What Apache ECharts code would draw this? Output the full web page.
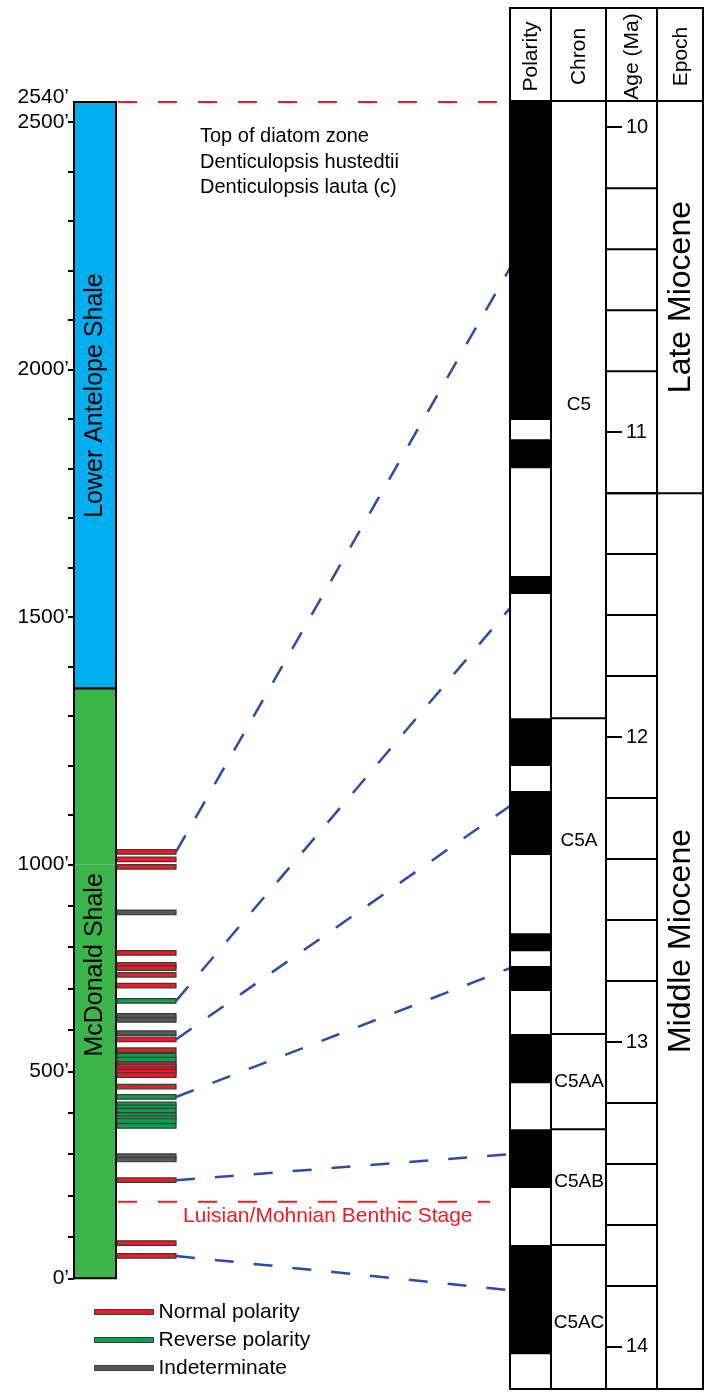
<!DOCTYPE html>
<html><head><meta charset="utf-8">
<script src="https://cdn.jsdelivr.net/npm/echarts@6/dist/echarts.min.js"></script>
<style>html,body{margin:0;padding:0;background:#fff}#c{width:707px;height:1393px}</style>
</head><body><div id="c"></div>
<script>
// ---------------- DATA ----------------
// depth axis (feet)
const depthTickLabels = [0, 500, 1000, 1500, 2000, 2500];
const sectionTopDepth = 2540;           // labelled top of the section
const formationNames = ['Lower Antelope Shale', 'McDonald Shale'];
const formationTops = [2540, 1355];
const formationBases = [1355, 0];
const formationLabelDepths = [1947, 757];
// paleomagnetic sample depths (ft)
const normalDepths = [1025, 1010, 994, 786, 757, 749, 733, 707, 577, 551, 519, 512, 505, 499, 491, 463, 237, 85, 54];
const reverseDepths = [670, 538, 528, 438, 420, 413, 405, 394, 387, 380, 368];
const indeterminateDepths = [884, 634, 624, 592, 295, 287];
const diatomTopDepth = 2540;
const diatomNotes = ['Top of diatom zone', 'Denticulopsis hustedtii', 'Denticulopsis lauta (c)'];
const stageBoundaryDepth = 185;
const stageBoundaryLabel = 'Luisian/Mohnian Benthic Stage';
// correlations: sample depth (ft) -> age (Ma)
const corrSampleDepths = [1025, 670, 577, 438, 237, 54];
const corrAges = [10.462, 11.577, 12.226, 12.758, 13.368, 13.814];
// timescale (Ma)
const ageTop = 9.914, ageBase = 14.138;
const normalChrons = [[9.914, 10.960], [11.023, 11.118], [11.472, 11.531], [11.938, 12.095], [12.177, 12.387],
  [12.643, 12.702], [12.751, 12.833], [12.974, 13.135], [13.286, 13.479], [13.666, 14.024]];
const chronNames = ['C5', 'C5A', 'C5AA', 'C5AB', 'C5AC'];
const chronBases = [11.938, 12.974, 13.286, 13.666, 14.138];
const chronLabelAges = [10.91, 12.34, 13.13, 13.46, 13.92];
const ageTicks = [10, 11, 12, 13, 14];
const ageCellLines = [10.2, 10.4, 10.6, 10.8, 11.2, 11.4, 11.6, 11.8, 12.2, 12.4, 12.6, 12.8, 13.2, 13.4, 13.6, 13.8];
const epochNames = ['Late Miocene', 'Middle Miocene'];
const epochBoundaries = [11.2];
const headerNames = ['Polarity', 'Chron', 'Age (Ma)', 'Epoch'];
const legendNames = ['Normal polarity', 'Reverse polarity', 'Indeterminate'];

// ---------------- STYLE / LAYOUT ----------------
const FONT = 'Liberation Sans';
const COL = { blue: '#00AEEF', green: '#3BB54A', normal: '#ED1C24', reverse: '#0E9F4F', indet: '#585858',
  edge: '#3a3a3a', corr: '#2B4BA6', stage: '#ED1C24' };
const formationColors = [COL.blue, COL.green];
const typeColors = [COL.normal, COL.reverse, COL.indet];
const L = { colL: 74, colR: 116, sampleR: 176, upperTop: 102, split: 864.3, lowerBottom: 1278.3,
  panelL: 510, panelR: 703, headerTop: 8, panelTop: 101, panelBottom: 1389, polR: 551, chronR: 606, ageR: 657 };

const chart = echarts.init(document.getElementById('c'), null, { renderer: 'canvas' });

function depthAxis(gi, min, max) {
  const shown = depthTickLabels.filter(v => v >= min && v <= max && !(gi === 0 && v === min));
  return {
    gridIndex: gi, type: 'value', min, max, interval: 100,
    axisLine: { show: true, onZero: false, lineStyle: { color: '#000', width: 2 } },
    axisTick: { show: true, length: 6, lineStyle: { color: '#000', width: 2 } },
    axisLabel: { color: '#000', fontSize: 21, fontFamily: FONT, margin: 5,
      showMinLabel: true, showMaxLabel: gi === 1,
      formatter: v => shown.includes(v) ? v + '\u2019' : '' },
    splitLine: { show: false }
  };
}
const extents = [[1000, 2540], [0, 1000]];

function formationSeries(gi) {
  const ext = extents[gi];
  return {
    type: 'custom', xAxisIndex: gi, yAxisIndex: gi, silent: true, z: 2, clip: false,
    data: formationNames.map((n, i) => [formationTops[i], formationBases[i], i, formationLabelDepths[i]]),
    renderItem(params, api) {
      const top = api.value(0), base = api.value(1), i = api.value(2), mid = api.value(3);
      const t = Math.min(top, ext[1]), b = Math.max(base, ext[0]);
      if (t <= b) return null;
      const y1 = api.coord([0, t])[1], y2 = api.coord([0, b])[1];
      const ch = [
        { type: 'rect', shape: { x: L.colL, y: y1, width: L.colR - L.colL, height: y2 - y1 }, style: { fill: formationColors[i] } },
        { type: 'line', shape: { x1: L.colL, y1: y1, x2: L.colL, y2: y2 }, style: { stroke: '#000', lineWidth: 2 } },
        { type: 'line', shape: { x1: L.colR, y1: y1, x2: L.colR, y2: y2 }, style: { stroke: '#000', lineWidth: 2 } }
      ];
      if (top <= ext[1] && top >= ext[0]) ch.push({ type: 'line', shape: { x1: L.colL - 1, y1: y1, x2: L.colR + 1, y2: y1 }, style: { stroke: '#000', lineWidth: 2 } });
      if (base >= ext[0] && base <= ext[1]) ch.push({ type: 'line', shape: { x1: L.colL - 1, y1: y2, x2: L.colR + 1, y2: y2 }, style: { stroke: '#000', lineWidth: 2 } });
      if (mid >= ext[0] && mid <= ext[1]) {
        ch.push({ type: 'text', x: (L.colL + L.colR) / 2, y: api.coord([0, mid])[1], rotation: Math.PI / 2,
          style: { text: formationNames[i], fill: '#000', font: '25px ' + FONT, align: 'center', verticalAlign: 'middle' } });
      }
      return { type: 'group', children: ch };
    }
  };
}

const sampleSets = [normalDepths, reverseDepths, indeterminateDepths];
function sampleSeries(k, gi) {
  const ext = extents[gi];
  return {
    type: 'custom', name: legendNames[k], xAxisIndex: gi, yAxisIndex: gi, z: 3, silent: true, clip: false,
    itemStyle: { color: typeColors[k], borderColor: COL.edge, borderWidth: 1 },
    data: sampleSets[k].filter(d => gi === 0 ? d > ext[0] : d <= ext[1]).map(d => [1, d]),
    renderItem(params, api) {
      const y = api.coord([0, api.value(1)])[1];
      return { type: 'rect', shape: { x: L.colR + 1, y: y - 2.25, width: L.sampleR - L.colR - 1, height: 4.5 },
        style: { fill: typeColors[k], stroke: COL.edge, lineWidth: 1.2 } };
    }
  };
}

const series = [formationSeries(0), formationSeries(1)];
for (let k = 0; k < 3; k++) { series.push(sampleSeries(k, 0)); series.push(sampleSeries(k, 1)); }

// section-top label, diatom top line + notes (upper grid)
series.push({
  type: 'custom', xAxisIndex: 0, yAxisIndex: 0, z: 4, silent: true, clip: false, data: [[0, diatomTopDepth, sectionTopDepth]],
  renderItem(params, api) {
    const y = api.coord([0, api.value(1)])[1];
    const yTop = api.coord([0, api.value(2)])[1];
    return { type: 'group', children: [
      { type: 'line', shape: { x1: L.colR + 2, y1: y, x2: 498, y2: y }, style: { stroke: COL.stage, lineWidth: 2, lineDash: [19, 21] } },
      { type: 'text', x: 200, y: y + 22, style: { text: diatomNotes.join('\n'), fill: '#000', font: '20px ' + FONT, lineHeight: 25.5, align: 'left', verticalAlign: 'top' } },
      { type: 'text', x: L.colL - 5, y: yTop - 5, style: { text: api.value(2) + '\u2019', fill: '#000', font: '21px ' + FONT, align: 'right', verticalAlign: 'middle' } }
    ] };
  }
});
// stage boundary (lower grid)
series.push({
  type: 'custom', xAxisIndex: 1, yAxisIndex: 1, z: 4, silent: true, clip: false, data: [[0, stageBoundaryDepth]],
  renderItem(params, api) {
    const y = api.coord([0, api.value(1)])[1];
    return { type: 'group', children: [
      { type: 'line', shape: { x1: L.colR + 2, y1: y, x2: 490, y2: y }, style: { stroke: COL.stage, lineWidth: 2, lineDash: [19, 21] } },
      { type: 'text', x: 183, y: y + 14, style: { text: stageBoundaryLabel, fill: COL.stage, font: '21px ' + FONT, align: 'left', verticalAlign: 'middle' } }
    ] };
  }
});

// ---- timescale panel (grid 2) ----
series.push({
  type: 'custom', xAxisIndex: 2, yAxisIndex: 2, z: 2, silent: true, data: normalChrons,
  renderItem(params, api) {
    const y1 = api.coord([0, api.value(0)])[1], y2 = api.coord([0, api.value(1)])[1];
    return { type: 'rect', shape: { x: L.panelL, y: y1, width: L.polR - L.panelL, height: y2 - y1 }, style: { fill: '#000' } };
  }
});
series.push({
  type: 'custom', xAxisIndex: 2, yAxisIndex: 2, z: 4, silent: true, clip: false,
  data: chronNames.map((n, i) => [chronBases[i], chronLabelAges[i], i]),
  renderItem(params, api) {
    const yb = api.coord([0, api.value(0)])[1], yl = api.coord([0, api.value(1)])[1];
    return { type: 'group', children: [
      { type: 'line', shape: { x1: L.polR, y1: yb, x2: L.chronR, y2: yb }, style: { stroke: '#000', lineWidth: 2 } },
      { type: 'text', x: (L.polR + L.chronR) / 2 + 0.5, y: yl, style: { text: chronNames[api.value(2)], fill: '#000', font: '19px ' + FONT, align: 'center', verticalAlign: 'middle' } }
    ] };
  }
});
series.push({
  type: 'custom', xAxisIndex: 2, yAxisIndex: 2, z: 4, silent: true, data: ageCellLines.map(a => [0, a]),
  renderItem(params, api) {
    const y = api.coord([0, api.value(1)])[1];
    return { type: 'line', shape: { x1: L.chronR, y1: y, x2: L.ageR, y2: y }, style: { stroke: '#000', lineWidth: 2 } };
  }
});
const epochTops = [ageTop].concat(epochBoundaries);
const epochBases = epochBoundaries.concat([ageBase]);
series.push({
  type: 'custom', xAxisIndex: 2, yAxisIndex: 2, z: 4, silent: true, clip: false,
  data: epochNames.map((n, i) => [epochTops[i], epochBases[i], i]),
  renderItem(params, api) {
    const yt = api.coord([0, api.value(0)])[1], yb = api.coord([0, api.value(1)])[1];
    const ch = [{ type: 'text', x: (L.ageR + L.panelR) / 2 + 1, y: (yt + yb) / 2, rotation: Math.PI / 2,
      style: { text: epochNames[api.value(2)], fill: '#000', font: '32px ' + FONT, align: 'center', verticalAlign: 'middle' } }];
    if (api.value(1) < ageBase) ch.push({ type: 'line', shape: { x1: L.chronR, y1: yb, x2: L.panelR, y2: yb }, style: { stroke: '#000', lineWidth: 2 } });
    return { type: 'group', children: ch };
  }
});
// frame + headers
series.push({
  type: 'custom', xAxisIndex: 2, yAxisIndex: 2, z: 6, silent: true, clip: false, data: [[0, ageTop, ageBase]],
  renderItem(params, api) {
    const yt = api.coord([0, api.value(1)])[1], yb = api.coord([0, api.value(2)])[1];
    const ht = L.headerTop;
    const xs = [L.panelL, L.polR, L.chronR, L.ageR, L.panelR];
    const ch = [{ type: 'rect', shape: { x: L.panelL, y: ht, width: L.panelR - L.panelL, height: yb - ht }, style: { fill: 'none', stroke: '#000', lineWidth: 2 } },
      { type: 'line', shape: { x1: L.panelL, y1: yt, x2: L.panelR, y2: yt }, style: { stroke: '#000', lineWidth: 2 } }];
    for (let i = 1; i < 4; i++) ch.push({ type: 'line', shape: { x1: xs[i], y1: ht, x2: xs[i], y2: yb }, style: { stroke: '#000', lineWidth: 2 } });
    for (let i = 0; i < 4; i++) ch.push({ type: 'text', x: (xs[i] + xs[i + 1]) / 2 + 1, y: (ht + yt) / 2 + 2, rotation: Math.PI / 2,
      style: { text: headerNames[i], fill: '#000', font: '21px ' + FONT, align: 'center', verticalAlign: 'middle' } });
    return { type: 'group', children: ch };
  }
});
// correlation lines (filled after layout)
series.push({
  id: 'corr', type: 'custom', coordinateSystem: 'none', z: 5, silent: true, data: [],
  renderItem(params, api) {
    return { type: 'line', shape: { x1: api.value(0), y1: api.value(1), x2: api.value(2), y2: api.value(3) },
      style: { stroke: COL.corr, lineWidth: 2.5, lineDash: [19, 20] } };
  }
});

const option = {
  animation: false,
  textStyle: { fontFamily: FONT },
  grid: [
    { left: L.colL, width: L.sampleR - L.colL, top: L.upperTop, height: L.split - L.upperTop, outerBoundsMode: 'none' },
    { left: L.colL, width: L.sampleR - L.colL, top: L.split, height: L.lowerBottom - L.split, outerBoundsMode: 'none' },
    { left: L.panelL, width: L.panelR - L.panelL, top: L.panelTop, height: L.panelBottom - L.panelTop, outerBoundsMode: 'none' }
  ],
  xAxis: [0, 1, 2].map(gi => ({ gridIndex: gi, type: 'value', min: 0, max: 1, show: false })),
  yAxis: [
    depthAxis(0, extents[0][0], extents[0][1]),
    depthAxis(1, extents[1][0], extents[1][1]),
    { gridIndex: 2, type: 'value', min: ageTop, max: ageBase, inverse: true, position: 'left', offset: -(L.chronR - L.panelL),
      axisLine: { show: false },
      axisTick: { show: true, inside: true, length: 16, customValues: ageTicks, lineStyle: { color: '#000', width: 2 } },
      axisLabel: { show: true, inside: true, margin: 20, customValues: ageTicks, fontSize: 20, color: '#000', fontFamily: FONT,
        formatter: v => String(v) },
      splitLine: { show: false } }
  ],
  legend: {
    orient: 'vertical', left: 94, top: 1301.5, padding: 0, itemWidth: 59, itemHeight: 5, itemGap: 7, icon: 'rect',
    textStyle: { fontSize: 21, color: '#000', fontFamily: FONT, lineHeight: 21 },
    data: legendNames.map((n, k) => ({ name: n, itemStyle: { color: typeColors[k], borderColor: COL.edge, borderWidth: 1 } }))
  },
  series
};
chart.setOption(option);

const corrData = corrSampleDepths.map((d, i) => {
  const gi = d > 1000 ? 0 : 1;
  const p1 = chart.convertToPixel({ gridIndex: gi }, [1, d]);
  const p2 = chart.convertToPixel({ gridIndex: 2 }, [0, corrAges[i]]);
  return [p1[0], p1[1], p2[0], p2[1]];
});
chart.setOption({ series: [{ id: 'corr', data: corrData }] });
</script></body></html>
